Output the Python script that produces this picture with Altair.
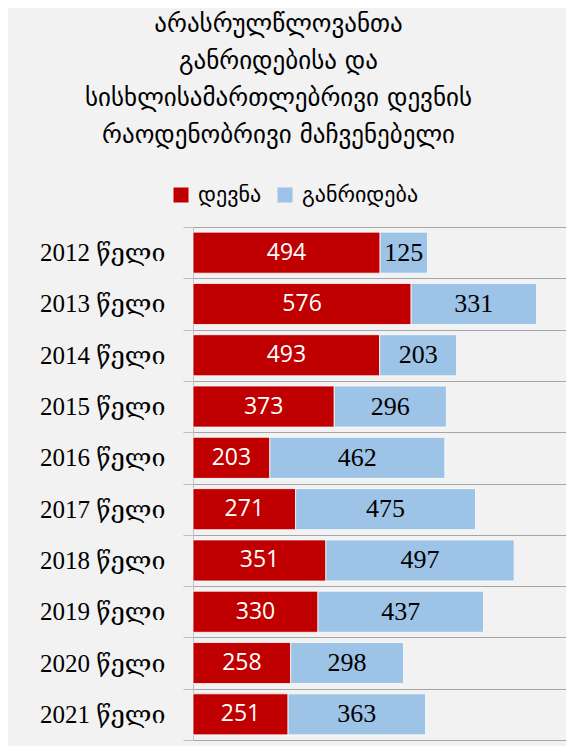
import altair as alt
import pandas as pd

years = ["2012 წელი", "2013 წელი", "2014 წელი", "2015 წელი", "2016 წელი",
         "2017 წელი", "2018 წელი", "2019 წელი", "2020 წელი", "2021 წელი"]
prosecution = [494, 576, 493, 373, 203, 271, 351, 330, 258, 251]
diversion = [125, 331, 203, 296, 462, 475, 497, 437, 298, 363]
series = ["დევნა", "განრიდება"]
colors = ["#C00000", "#9DC3E6"]
title_lines = ["არასრულწლოვანთა", "განრიდებისა და",
               "სისხლისამართლებრივი დევნის", "რაოდენობრივი მაჩვენებელი"]

rows = []
for y, p, d in zip(years, prosecution, diversion):
    rows.append({"year": y, "series": series[0], "value": p, "ord": 0})
    rows.append({"year": y, "series": series[1], "value": d, "ord": 1})
df = pd.DataFrame(rows)

base = alt.Chart(df).transform_stack(
    stack="value", groupby=["year"], as_=["x0", "x1"],
    sort=[alt.SortField("ord", order="ascending")]
).transform_calculate(mid="(datum.x0 + datum.x1) / 2")

yenc = alt.Y(
    "year:N", sort=years,
    scale=alt.Scale(paddingInner=0, paddingOuter=0),
    axis=alt.Axis(title=None, tickBand="extent", grid=True, gridColor="#a6a6a6",
                  gridWidth=1.2, tickColor="#bfbfbf", tickSize=10, domainColor="#bfbfbf",
                  labelFont="Liberation Serif, DejaVu Serif", labelFontSize=25,
                  labelColor="black", labelPadding=18),
)
xscale = alt.Scale(domain=[0, 985], nice=False)

bars = base.mark_bar(height={"band": 0.8}, stroke="white", strokeWidth=0.75).encode(
    y=yenc,
    x=alt.X("x0:Q", scale=xscale, axis=None),
    x2="x1:Q",
    color=alt.Color("series:N", scale=alt.Scale(domain=series, range=colors),
                    legend=alt.Legend(title=None, orient="none", legendX=-23, legendY=-43,
                                      direction="horizontal", symbolType="square",
                                      symbolSize=225, symbolStrokeWidth=0,
                                      labelFont="DejaVu Sans", labelFontSize=22,
                                      labelColor="black", labelOffset=6, columnPadding=12)),
)

red_text = base.transform_filter(alt.datum.ord == 0).mark_text(
    font="Open Sans", fontSize=23, color="white"
).encode(y=alt.Y("year:N", sort=years), x=alt.X("mid:Q", scale=xscale), text="value:Q")

blue_text = base.transform_filter(alt.datum.ord == 1).mark_text(
    font="Liberation Serif", fontSize=26, color="black"
).encode(y=alt.Y("year:N", sort=years), x=alt.X("mid:Q", scale=xscale), text="value:Q")

chart = alt.layer(bars, red_text, blue_text).properties(
    width=373, height=513,
    padding={"left": 185, "top": 219, "right": 0, "bottom": 6},
    autosize=alt.AutoSizeParams(type="none"),
    background="#f2f2f2",
    title=alt.TitleParams(text=title_lines, font="DejaVu Sans", fontSize=25,
                          fontWeight="normal", color="black", anchor="middle",
                          frame="group", dx=-101, lineHeight=37, offset=36),
).configure_view(stroke=None)

chart.save("out.html", embed_options={"renderer": "svg", "actions": False})
